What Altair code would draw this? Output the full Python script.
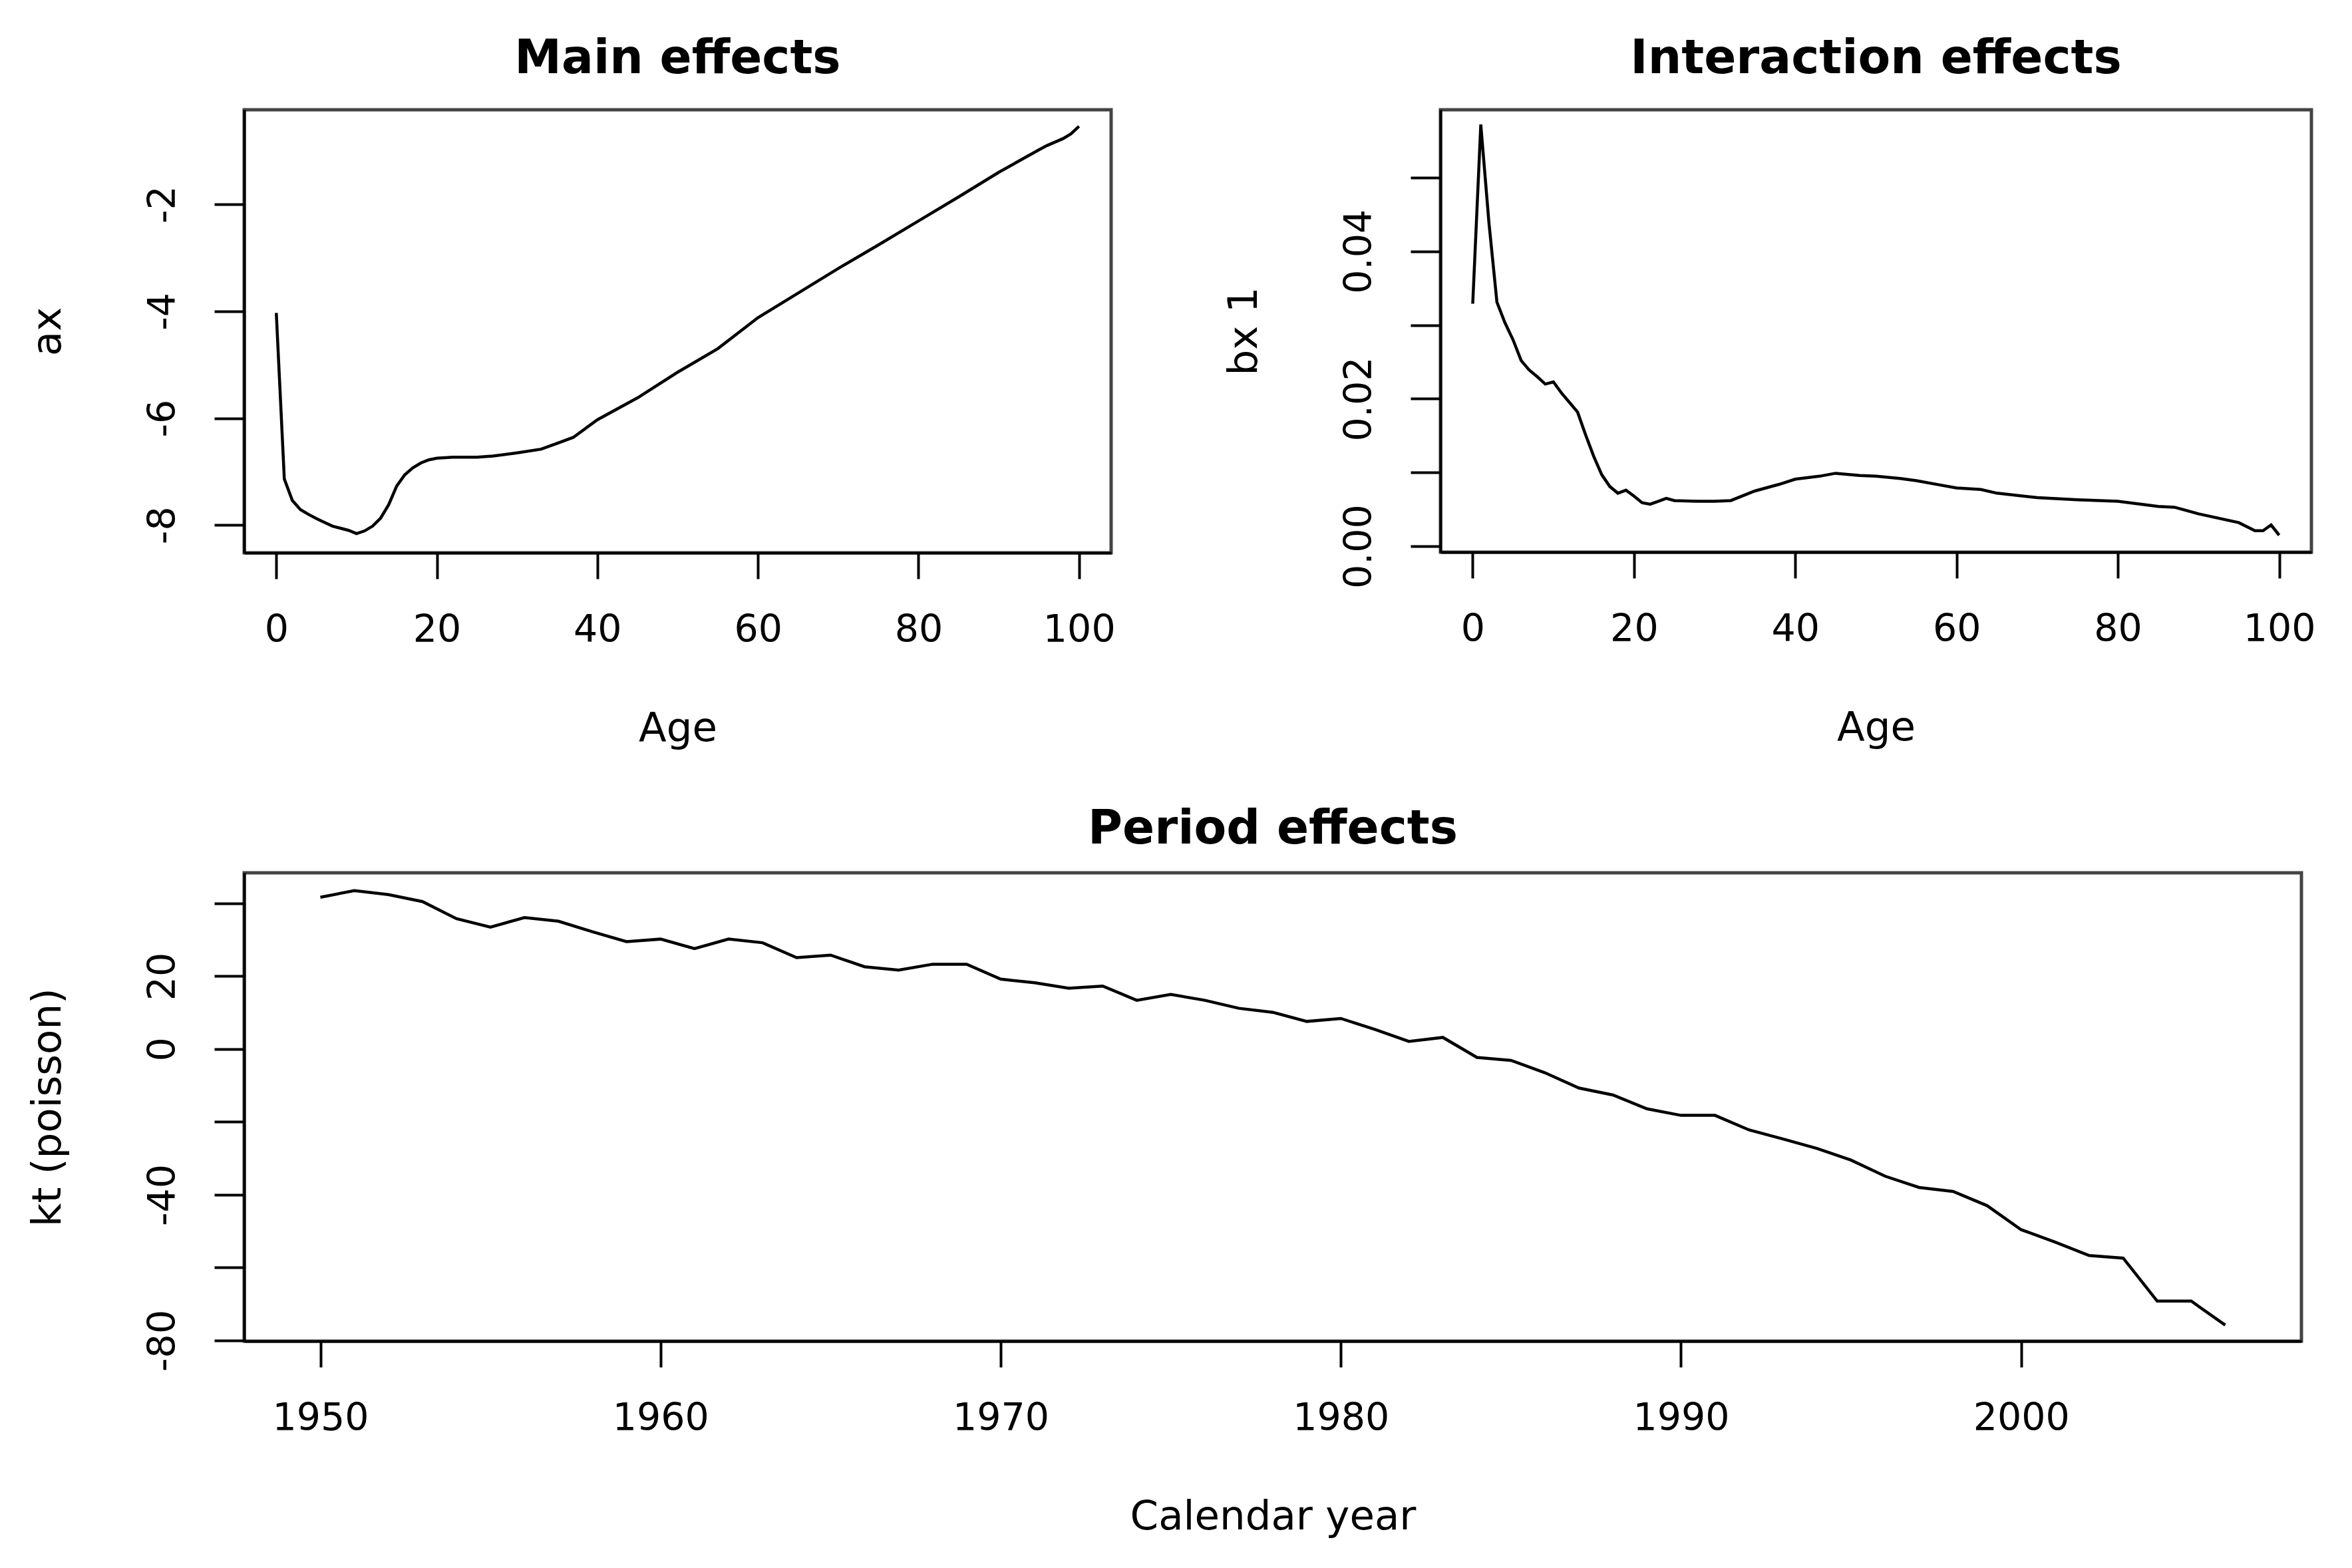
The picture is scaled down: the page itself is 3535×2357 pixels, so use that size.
import altair as alt
import pandas as pd

# ---------------- data ----------------
age_main = [0, 1, 2, 3, 4, 5, 6, 7, 8, 9, 10, 11, 12, 13, 14, 15, 16, 17, 18, 19,
            20, 22, 25, 27, 30, 33, 35, 37, 40, 45, 50, 55, 60, 65, 70, 75, 80,
            85, 90, 95, 96, 98, 99, 100]
ax_vals = [-4.03, -7.14, -7.54, -7.71, -7.80, -7.88, -7.95, -8.02, -8.06, -8.10,
           -8.16, -8.11, -8.02, -7.87, -7.62, -7.27, -7.06, -6.93, -6.84, -6.78,
           -6.75, -6.73, -6.73, -6.71, -6.65, -6.58, -6.47, -6.36, -6.03, -5.62,
           -5.14, -4.70, -4.12, -3.66, -3.20, -2.76, -2.31, -1.86, -1.40, -0.98,
           -0.90, -0.77, -0.68, -0.54]

age_int = [0, 1, 2, 3, 4, 5, 6, 7, 8, 9, 10, 11, 12, 13, 14, 15, 16, 17, 18, 19,
           20, 21, 22, 23, 24, 25, 28, 30, 32, 35, 38, 40, 43, 45, 48, 50, 53, 55,
           58, 60, 63, 65, 70, 75, 80, 85, 87, 90, 95, 97, 98, 99, 100]
bx_vals = [0.0329, 0.0572, 0.0440, 0.0331, 0.0303, 0.0280, 0.0252, 0.0239, 0.0230,
           0.0220, 0.0223, 0.0208, 0.0195, 0.0182, 0.0151, 0.0122, 0.0097, 0.0081,
           0.0072, 0.0076, 0.0068, 0.0059, 0.0057, 0.0061, 0.0065, 0.0062, 0.0061,
           0.0061, 0.0062, 0.0075, 0.0084, 0.0091, 0.0095, 0.0099, 0.0096, 0.0095,
           0.0092, 0.0089, 0.0083, 0.0079, 0.0077, 0.0072, 0.0066, 0.0063, 0.0061,
           0.0054, 0.0053, 0.0044, 0.0032, 0.0021, 0.0021, 0.0029, 0.0015]

years = list(range(1950, 2007))
kt_vals = [41.7, 43.5, 42.4, 40.5, 35.8, 33.5, 36.1, 35.1, 32.2, 29.5,
           30.2, 27.6, 30.2, 29.2, 25.1, 25.8, 22.6, 21.7, 23.3, 23.3,
           19.2, 18.2, 16.7, 17.3, 13.4, 15.0, 13.4, 11.2, 10.1, 7.6,
           8.4, 5.4, 2.1, 3.2, -2.3, -3.1, -6.5, -10.7, -12.6, -16.4,
           -18.2, -18.2, -22.2, -24.7, -27.3, -30.5, -34.9, -38.0, -39.1, -43.0,
           -49.6, -53.0, -56.7, -57.4, -69.2, -69.2, -75.8]

age_ticks = [0, 20, 40, 60, 80, 100]
ax_ticks = [-8, -6, -4, -2]
bx_ticks = [0.0, 0.01, 0.02, 0.03, 0.04, 0.05]
year_ticks = [1950, 1960, 1970, 1980, 1990, 2000]
kt_ticks = [-80, -60, -40, -20, 0, 20, 40]

df_main = pd.DataFrame({"Age": age_main, "ax": ax_vals})
df_int = pd.DataFrame({"Age": age_int, "bx": bx_vals})
df_per = pd.DataFrame({"Year": years, "kt": kt_vals})

FONT = "DejaVu Sans"
TICK_FS = 57
TITLE_FS = 61
HEAD_FS = 71
LINE_W = 4.5


def xaxis(values, title):
    return alt.Axis(values=values, title=title, grid=False,
                    domain=True, domainColor="black", domainWidth=4,
                    ticks=True, tickColor="black", tickWidth=4, tickSize=39,
                    labelFont=FONT, labelFontSize=TICK_FS, labelColor="black",
                    labelPadding=49, labelExpr="'' + datum.value",
                    labelFlush=False, labelOverlap=False,
                    titleFont=FONT, titleFontSize=TITLE_FS, titleFontWeight="normal",
                    titleColor="black", titlePadding=84,
                    minExtent=150, maxExtent=150)


def yaxis(values, title, expr):
    return alt.Axis(values=values, title=title, grid=False,
                    domain=True, domainColor="black", domainWidth=4,
                    ticks=True, tickColor="black", tickWidth=4, tickSize=45,
                    labelAngle=270, labelAlign="center", labelBaseline="bottom",
                    labelFont=FONT, labelFontSize=TICK_FS, labelColor="black",
                    labelPadding=48, labelExpr=expr,
                    labelFlush=False, labelOverlap=False,
                    titleFont=FONT, titleFontSize=TITLE_FS, titleFontWeight="normal",
                    titleColor="black", titlePadding=134,
                    minExtent=130, maxExtent=130)


def head(text, offset):
    return alt.TitleParams(text, font=FONT, fontSize=HEAD_FS, fontWeight="bold",
                           color="black", anchor="middle", frame="group",
                           baseline="alphabetic", offset=offset)


main = alt.Chart(df_main).mark_line(color="black", strokeWidth=LINE_W).encode(
    x=alt.X("Age:Q", scale=alt.Scale(domain=[-4, 104], nice=False, zero=False),
            axis=xaxis(age_ticks, "Age")),
    y=alt.Y("ax:Q", scale=alt.Scale(domain=[-8.52, -0.23], nice=False, zero=False),
            axis=yaxis(ax_ticks, "ax", "'' + datum.value")),
).properties(width=1303, height=666, title=head("Main effects", -16))

inter = alt.Chart(df_int).mark_line(color="black", strokeWidth=LINE_W).encode(
    x=alt.X("Age:Q", scale=alt.Scale(domain=[-4, 104], nice=False, zero=False),
            axis=xaxis(age_ticks, "Age")),
    y=alt.Y("bx:Q", scale=alt.Scale(domain=[-0.0008, 0.0592], nice=False, zero=False),
            axis=yaxis(bx_ticks, "bx 1",
                       "indexof(['0.00','0.02','0.04'], format(datum.value, '.2f')) >= 0 ? format(datum.value, '.2f') : ''")),
).properties(width=1309, height=665, title=head("Interaction effects", -16))

period = alt.Chart(df_per).mark_line(color="black", strokeWidth=LINE_W).encode(
    x=alt.X("Year:Q", scale=alt.Scale(domain=[1947.76, 2008.24], nice=False, zero=False),
            axis=xaxis(year_ticks, "Calendar year")),
    y=alt.Y("kt:Q", scale=alt.Scale(domain=[-80.2, 48.4], nice=False, zero=False),
            axis=yaxis(kt_ticks, "kt (poisson)",
                       "indexof([20, 0, -40, -80], datum.value) >= 0 ? '' + datum.value : ''")),
).properties(width=3092, height=704, title=head("Period effects", -27))

top = alt.hconcat(main, inter, spacing=157)
chart = alt.vconcat(top, period, spacing=80).properties(
    padding={"left": 30, "top": 42, "right": 5, "bottom": 5},
    background="white",
).configure_view(stroke="#444444", strokeWidth=5)

chart.save("out.html", embed_options={"renderer": "svg", "actions": False})
